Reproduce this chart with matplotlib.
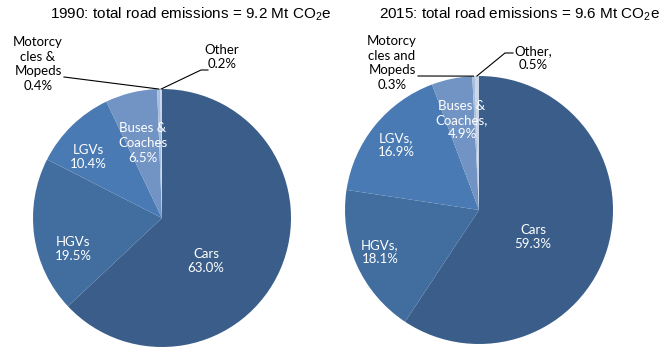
import numpy as np
import matplotlib.pyplot as plt

# Road transport emissions by vehicle type
categories = ["Cars", "HGVs", "LGVs", "Buses & Coaches", "Motorcycles & Mopeds", "Other"]
share_1990 = [63.0, 19.5, 10.4, 6.5, 0.4, 0.2]
share_2015 = [59.3, 18.1, 16.9, 4.9, 0.3, 0.5]
names_1990 = ["Cars", "HGVs", "LGVs", "Buses &\nCoaches", "Motorcy\ncles &\nMopeds", "Other"]
names_2015 = ["Cars", "HGVs,", "LGVs,", "Buses &\nCoaches,", "Motorcy\ncles and\nMopeds", "Other,"]
titles = ["1990: total road emissions = 9.2 Mt CO$_2$e",
          "2015: total road emissions = 9.6 Mt CO$_2$e"]

colors = ["#3a5e89", "#426d9f", "#4a7ab3", "#7194c4", "#a9bedd", "#c9d6ea"]

W, H = 667, 359
plt.rcParams['mathtext.fontset'] = 'custom'
plt.rcParams['mathtext.rm'] = 'Liberation Sans'
plt.rcParams['mathtext.it'] = 'Liberation Sans'

fig = plt.figure(figsize=(W / 100, H / 100), dpi=100)
ax = fig.add_axes([0, 0, 1, 1])
ax.set_xlim(0, W)
ax.set_ylim(0, H)
ax.set_aspect('equal')
ax.axis('off')


def py(y):
    # pixel row from top -> data y
    return H - y


# layout (pixel positions from top-left)
pies = [
    dict(center=(162, 218), radius=129, title_x=191,
         label_xy=[(206, 261), (73, 249), (88, 157), (143, 143), (38, 64), (222, 57)],
         moto_line=[(64, 77)], other_line=[(208, 70), (201, 70)]),
    dict(center=(479, 210), radius=134, title_x=519,
         label_xy=[(533, 237), (380, 252), (396, 145), (462, 120), (392, 63), (533, 58)],
         moto_line=[(418, 76)], other_line=[(513, 53), (505, 53)]),
]

label_font = dict(family=['Lato', 'DejaVu Sans'], fontsize=9.5, linespacing=1.25,
                  ha='center', va='center')

for spec, vals, names, title in zip(pies, [share_1990, share_2015],
                                    [names_1990, names_2015], titles):
    cx, cy = spec['center']
    wedges, _ = ax.pie(vals, colors=colors, startangle=90, counterclock=False,
                       center=(cx, py(cy)), radius=spec['radius'],
                       wedgeprops=dict(linewidth=0))
    ax.text(spec['title_x'], py(14), title, ha='center', va='center',
            fontsize=11, family='Liberation Sans')

    for i, (name, v) in enumerate(zip(names, vals)):
        x, y = spec['label_xy'][i]
        col = 'white' if i < 4 else 'black'
        ax.text(x, py(y), f"{name}\n{v:.1f}%", color=col, **label_font)

    # leader lines for the thin slices
    for idx, key in [(4, 'moto_line'), (5, 'other_line')]:
        w = wedges[idx]
        ang = np.deg2rad((w.theta1 + w.theta2) / 2)
        ex = cx + spec['radius'] * np.cos(ang)
        ey = py(cy) + spec['radius'] * np.sin(ang)
        pts = [(x, py(y)) for x, y in spec[key]] + [(ex, ey)]
        xs, ys = zip(*pts)
        ax.plot(xs, ys, color='black', lw=0.8)

ax.set_xlim(0, W)
ax.set_ylim(0, H)
fig.savefig('out.png', dpi=100)
